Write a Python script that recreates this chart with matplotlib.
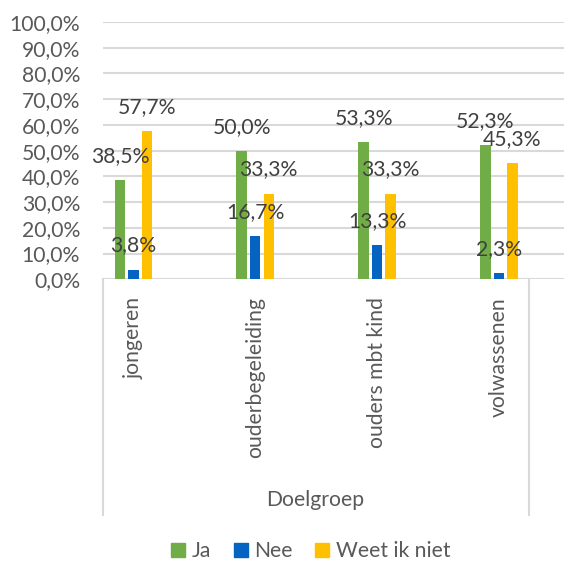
import matplotlib.pyplot as plt
import numpy as np
from matplotlib.lines import Line2D

categories = ["jongeren", "ouderbegeleiding", "ouders mbt kind", "volwassenen"]
series_names = ["Ja", "Nee", "Weet ik niet"]
ja = [38.5, 50.0, 53.3, 52.3]
nee = [3.8, 16.7, 13.3, 2.3]
weet_niet = [57.7, 33.3, 33.3, 45.3]
y_ticks = list(range(0, 101, 10))
x_title = "Doelgroep"

colors = ["#70AD47", "#0563C1", "#FFC000"]
axis_gray = "#595959"
label_gray = "#404040"
grid_gray = "#D9D9D9"
fs = 15.2


def pct(v):
    return f"{v:.1f}%".replace(".", ",")


plt.rcParams["font.family"] = ["Lato", "DejaVu Sans"]

W, H = 564, 561
fig = plt.figure(figsize=(W / 100, H / 100), dpi=100)
ax = fig.add_axes([103 / W, 1 - 279.3 / H, 1 - 103 / W, (279.3 - 22) / H])

x = np.arange(len(categories))
bar_w = 0.086
step = 0.111
for i, (vals, col) in enumerate(zip([ja, nee, weet_niet], colors)):
    xs = x + (i - 1) * step
    ax.bar(xs, vals, width=bar_w, color=col, zorder=3)
    for xi, v in zip(xs, vals):
        ax.annotate(pct(v), xy=(xi, v), xytext=(0, 17.3), textcoords="offset points",
                    ha="center", va="center", fontsize=fs, color=label_gray, zorder=4)

ax.set_xlim(-0.25, 3.535)
ax.set_ylim(0, 100)
ax.set_yticks(y_ticks)
ax.set_yticklabels([pct(t) for t in y_ticks], fontsize=fs, color=axis_gray)
ax.set_xticks(x)
ax.set_xticklabels(categories, rotation=90, fontsize=fs, color=axis_gray, va="top")
ax.tick_params(axis="y", length=0, pad=16.5)
ax.tick_params(axis="x", length=0, pad=13)
ax.grid(True, axis="y", color=grid_gray, lw=1.5, zorder=1)
for s in ax.spines.values():
    s.set_visible(False)

# boxed category area under the axis
trans = ax.get_xaxis_transform()
y_bot = -(515 - 279.3) / (279.3 - 22)
for xb in (-0.25, 3.25):
    ax.add_line(Line2D([xb, xb], [0, y_bot], transform=trans, color=grid_gray,
                       lw=1.5, clip_on=False))

fig.text(315 / W, 1 - 500 / H, x_title, ha="center", va="center",
         fontsize=fs, color=axis_gray)

handles = [Line2D([], [], marker="s", ls="none", markersize=10, color=c) for c in colors]
fig.legend(handles, series_names, loc="center", bbox_to_anchor=(310 / W, 1 - 551 / H),
           ncol=3, frameon=False, fontsize=fs, labelcolor=axis_gray,
           handlelength=0.8, handletextpad=0.25, columnspacing=1.0)

fig.savefig("out.png", dpi=100)
